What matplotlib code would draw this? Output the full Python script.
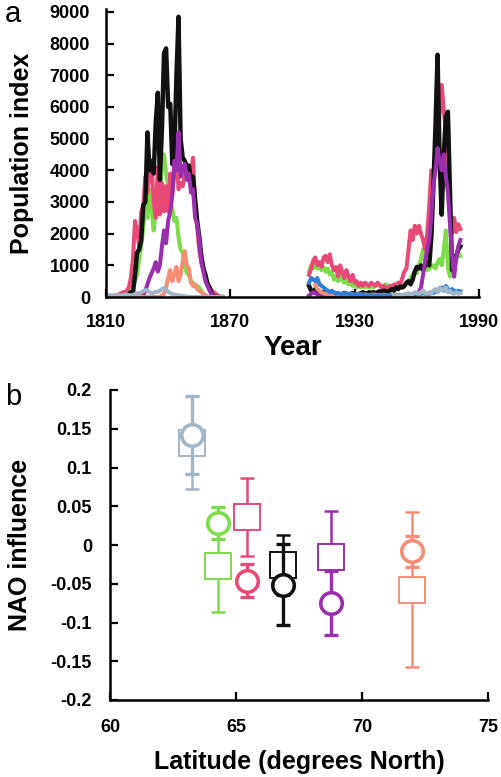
import numpy as np
import matplotlib
matplotlib.use("Agg")
import matplotlib.pyplot as plt

plt.rcParams['font.family'] = ['Liberation Sans', 'DejaVu Sans']

# ---- panel a: population index time series ----
nan = np.nan
years_early = list(range(1810, 1867))
years_late = list(range(1908, 1982))

black_early = [0] * 11 + [100, 150, 130, 700, 1400, 1500, 1800, 2900, 3000, 5200,
                          4000, 4300, 3900, 5500, 6450, 3700, 5300, 7700, 7850, 6000,
                          6100, 4200, 4600, 7000, 8850, 5000, 4400, 4300, 4100, 4150,
                          3700, 3800, 3100, 2400, 1900, 1300, 900, 700, 400, 300, 100] + [0] * 5
pink_early = [0, 0, 20, 30, 50, 50, 80, 100, 150,
              150, 200, 300, 600, 1200, 2400, 2100, 1600, 2700, 2900, 3800, 3300, 3900, 4200,
              3000, 2500, 4100, 2600, 3600, 2700, 3500, 2700, 3900, 3300, 3900, 4500, 3400,
              3600, 3500, 3900, 3700, 3900, 3900, 4400, 2800, 2200, 1500, 1100, 900, 600, 450,
              300, 200, 150, 100, 50, 0, 0]
green_early = [0, 0, 0, 0, 20, 30, 50, 80, 100, 100, 150, 200, 250, 350,
               500, 700, 1200, 1600, 2200, 2900, 2500, 3400, 2800, 2100, 2700, 3300, 2900,
               4200, 4500, 3900, 3500, 2900, 2800, 2400, 2500, 1900, 1500, 1400, 1000, 750,
               700, 500, 450, 330, 350, 300, 200, 100, 50] + [0] * 8
purple_early = [0] * 18 + [50, 200, 400, 600, 750, 900, 1100, 800, 1000, 1600, 2100, 1700,
                           2400, 2700, 3200, 4300, 4000, 5200, 3800, 4100, 4200, 3700, 3900,
                           3300, 3400, 2500, 2300, 1800, 1100, 800, 500, 350, 200, 80] + [0] * 5
salmon_early = [0] * 27 + [50, 100, 300, 600, 850, 500, 700, 950, 500, 700, 1100, 1450,
                           1000, 900, 450, 350, 400, 250, 200, 150, 100, 50, 20] + [0] * 7
gray_early = [50, 50, 60, 50, 40, 50, 60, 50, 60, 70, 80, 60, 50, 70, 90, 120, 100, 150,
              180, 220, 200, 150, 100, 130, 170, 160, 200, 250, 280, 220, 170, 120, 100,
              80, 60, 50, 40, 30, 20, 10] + [0] * 17

pink_late = [700, 900, 1150, 1250, 1000, 1100, 950, 1250, 1300, 1100,
             1350, 1000, 850, 950, 650, 1000, 800, 600, 850, 650,
             500, 700, 450, 500, 350, 450, 350, 450, 400, 350,
             450, 400, 350, 450, 400, 300, 350, 250, 300, 350,
             300, 400, 350, 450, 400, 600, 800, 900, 1500, 2100,
             1800, 2250, 2000, 2250, 2000, 1800, 1500, 2000, 2900, 4000,
             3900, 4500, 5000, 5800, 6700, 5900, 5200, 4000, 2700, 2000,
             2500, 2050, 2300, 2150]
black_late = [350, 200, 150, 250, 200, 150, 100, 150, 200, 150,
              100, 150, 100, 120, 100, 80, 100, 120, 100, 80,
              100, 120, 100, 80, 100, 120, 150, 100, 120, 150,
              130, 150, 120, 150, 180, 150, 200, 180, 150, 200,
              250, 200, 300, 250, 330, 300, 350, 450, 500, 400,
              550, 800, 950, 900, 1000, 850, 1000, 1100, 1000, 1900,
              3500, 5400, 7650, 4300, 2600, 4500, 5700, 5850, 3300, 850,
              1000, 1300, 1500, 1600]
green_late = [800, 1000, 900, 1050, 900, 1000, 850, 950, 800, 900,
              700, 800, 550, 650, 500, 700, 550, 450, 550, 400,
              450, 350, 400, 300, 350, 300, 350, 300, 350, 300,
              350, 300, 350, 400, 350, 300, 350, 400, 350, 300,
              350, 300, 350, 400, 350, 300, 350, 450, 500, 600,
              700, 800, 750, 1000, 1200, 1500, 1000, 850, 900, 950,
              1000, 900, 1100, 1200, 1000, 1500, 2100, 900, 650, 1000,
              1300, 1200, 1400, 1300]
purple_late = [50, 100, 150, 120, 80, 60, 50, 40, 50, 40,
               30, 40, 50, 30, 40, 30, 20, 30, 40, 30,
               20, 30, 20, 30, 40, 30, 20, 30, 40, 30,
               20, 30, 40, 30, 20, 30, 40, 30, 20, 30,
               20, 30, 40, 30, 40, 30, 40, 50, 40, 60,
               40, 60, 80, 150, 300, 700, 1100, 1500, 1800, 2600,
               3500, 4000, 4700, 4300, 4000, 4500, 3800, 3300, 2300, 1300,
               640, 1200, 1600, 1800]
salmon_late = [nan, nan, nan, 380, 250, 200, 150, 120, 100, 100,
               90, 100, 80, 90, 100, 80, 90, 80, 70, 80,
               90, 80, 70, 80, 90, 80, 70, 80, 70, 60,
               70, 80, 70, 60, 70, 60, 70, 60, 50, 60,
               50, 60, 50, 60, 50, 40, 50, 40, 50, 40] + [nan] * 24
gray_late = [nan] * 41 + [50, 60, 40, 50, 70, 80, 100, 120, 80, 100,
                          150, 120, 100, 150, 200, 120, 100, 150, 100, 200,
                          250, 150, 300, 200, 250, 300, 150, 200, 120, 100,
                          150, 100, 120]
blue_late = [450, 600, 550, 500, 600, 400, 350, 300, 250, 200,
             150, 200, 150, 100, 120, 100, 80, 100, 120, 80,
             100, 80, 60, 80, 100, 80, 60, 50, 60, 50,
             60, 50, 40, 50, 60, 50, 40, 50, 60, 50,
             40, 50, 60, 50, 40, 50, 60, 50, 40, 50,
             60, 80, 100, 80, 100, 120, 100, 80, 100, 150,
             120, 200, 150, 250, 300, 200, 350, 250, 200, 250,
             200, 150, 200, 180]

# ---- panel b: NAO influence by latitude ----
latitude = [63.25, 64.28, 65.45, 66.87, 68.77, 72.0]
circle_val = [0.142, 0.0285, -0.046, -0.051, -0.075, -0.008]
circle_err = [0.050, 0.0205, 0.021, 0.052, 0.041, 0.020]
square_val = [0.132, -0.027, 0.036, -0.026, -0.015, -0.058]
square_err = [0.060, 0.060, 0.050, 0.039, 0.059, 0.100]

c_gray = '#a3b6c8'
c_green = '#7ddc4a'
c_pink = '#e84a78'
c_black = '#111111'
c_purple = '#9a2fae'
c_salmon = '#f68e76'
c_blue = '#2f7fdc'
point_colors = [c_gray, c_green, c_pink, c_black, c_purple, c_salmon]

fig = plt.figure(figsize=(5.01, 7.77), dpi=100)

ax1 = fig.add_axes([106 / 501, 1 - 297 / 777, (479 - 106) / 501, (297 - 9.3) / 777])
series = [
    (green_early, green_late, c_green),
    (pink_early, pink_late, c_pink),
    (black_early, black_late, c_black),
    (purple_early, purple_late, c_purple),
    (salmon_early, salmon_late, c_salmon),
    (None, blue_late, c_blue),
    (gray_early, gray_late, c_gray),
]
for early, late, col in series:
    lw = 3.2 if col == c_black else 2.9
    if early is not None:
        ax1.plot(years_early, early, color=col, lw=lw)
    ax1.plot(years_late, late, color=col, lw=lw)

ax1.set_xlim(1810, 1990)
ax1.set_ylim(0, 9085)
ax1.set_xticks([1810, 1870, 1930, 1990])
ax1.set_yticks(range(0, 9001, 1000))
ax1.set_xlabel('Year', fontsize=20, fontweight='bold', labelpad=3)
ax1.set_ylabel('Population index', fontsize=18, fontweight='bold', labelpad=11)

ax2 = fig.add_axes([110 / 501, 1 - 700 / 777, (488 - 110) / 501, (700 - 390) / 777])
for x, v, e, col in zip(latitude, square_val, square_err, point_colors):
    ax2.errorbar(x, v, yerr=e, fmt='none', ecolor=col, elinewidth=1.8,
                 capsize=5, capthick=1.8, zorder=2)
    ax2.plot(x, v, marker='s', ms=18.5, mfc='white', mec=col, mew=1.4, zorder=3)
for x, v, e, col in zip(latitude, circle_val, circle_err, point_colors):
    ax2.errorbar(x, v, yerr=e, fmt='none', ecolor=col, elinewidth=2.4,
                 capsize=5, capthick=2.4, zorder=4)
    ax2.plot(x, v, marker='o', ms=15.5, mfc='white', mec=col, mew=2.6, zorder=5)

ax2.set_xlim(60, 75)
ax2.set_ylim(-0.2, 0.2)
ax2.set_xticks([60, 65, 70, 75])
ax2.set_yticks([-0.2, -0.15, -0.1, -0.05, 0, 0.05, 0.1, 0.15, 0.2])
ax2.set_yticklabels(['-0.2', '-0.15', '-0.1', '-0.05', '0', '0.05', '0.1', '0.15', '0.2'])
ax2.set_xlabel('Latitude (degrees North)', fontsize=18, fontweight='bold', labelpad=10)
ax2.set_ylabel('NAO influence', fontsize=18, fontweight='bold', labelpad=13)

for ax in (ax1, ax2):
    for s in ('top', 'right'):
        ax.spines[s].set_visible(False)
    for s in ('left', 'bottom'):
        ax.spines[s].set_linewidth(1.8)
    ax.tick_params(direction='in', length=6, width=1.6)
    for lab in ax.get_xticklabels() + ax.get_yticklabels():
        lab.set_fontweight('bold')
        lab.set_fontsize(13)
ax1.tick_params(axis='y', pad=11.5)
ax1.tick_params(axis='x', pad=12)
ax2.tick_params(axis='y', pad=13)
ax2.tick_params(axis='x', pad=14)

fig.text(0.01, 1 - 22 / 777, 'a', fontsize=21, va='baseline')
fig.text(0.01, 1 - 405 / 777, 'b', fontsize=21, va='baseline')

fig.savefig('out.png', dpi=100)
